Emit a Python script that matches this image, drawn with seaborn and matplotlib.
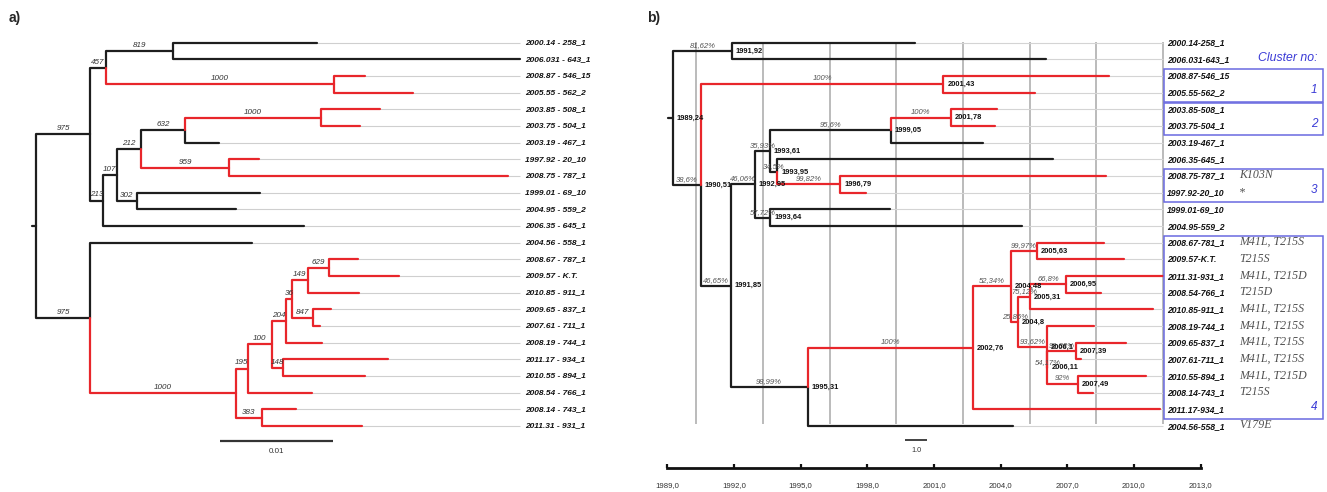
import matplotlib
matplotlib.use("Agg")
import matplotlib.pyplot as plt
import seaborn as sns
import pandas as pd
from matplotlib.patches import Rectangle

# ------------------------------------------------------------------ panel a data
a_tip_labels = ["2000.14 - 258_1", "2006.031 - 643_1", "2008.87 - 546_15", "2005.55 - 562_2",
                "2003.85 - 508_1", "2003.75 - 504_1", "2003.19 - 467_1", "1997.92 - 20_10",
                "2008.75 - 787_1", "1999.01 - 69_10", "2004.95 - 559_2", "2006.35 - 645_1",
                "2004.56 - 558_1", "2008.67 - 787_1", "2009.57 - K.T.", "2010.85 - 911_1",
                "2009.65 - 837_1", "2007.61 - 711_1", "2008.19 - 744_1", "2011.17 - 934_1",
                "2010.55 - 894_1", "2008.54 - 766_1", "2008.14 - 743_1", "2011.31 - 931_1"]
a_tip_parent = ["n819", "n819", "n1000a", "n1000a", "n1000b", "n1000b", "n632", "n959",
                "n959", "n302", "n302", "n213", "B", "nKT", "nKT", "n629",
                "n847", "n847", "n36", "n148", "n148", "n100", "n383", "n383"]
a_tip_depth = [0.02487, 0.04283, 0.02912, 0.03334, 0.03047, 0.02867, 0.01619, 0.01973,
               0.04177, 0.01982, 0.01770, 0.02372, 0.01912, 0.02850, 0.03212, 0.02858,
               0.02608, 0.02513, 0.02531, 0.03115, 0.02912, 0.02445, 0.02301, 0.02882]
a_node_names = ["root", "A", "n457", "n819", "n1000a", "n213", "n107", "n212", "n632", "n1000b",
                "n959", "n302", "B", "n195", "n100", "n204", "n36", "n149", "n629", "nKT",
                "n847", "n148", "n383"]
a_node_parent = [None, "root", "A", "n457", "n457", "A", "n213", "n107", "n212", "n632",
                 "n212", "n107", "root", "B", "n195", "n100", "n204", "n36", "n149", "n629",
                 "n149", "n204", "n195"]
a_node_depth = [0.0, 0.00478, 0.00619, 0.01212, 0.02633, 0.00593, 0.00717, 0.00929, 0.01319,
                0.02522, 0.01708, 0.00894, 0.00478, 0.01770, 0.01876, 0.02088, 0.02212,
                0.02265, 0.02404, 0.02597, 0.02448, 0.02186, 0.02000]
a_node_support = ["", "975", "457", "819", "1000", "213", "107", "212", "632", "1000",
                  "959", "302", "975", "1000", "195", "100", "204", "36", "149", "629",
                  "847", "148", "383"]
a_red_clades = ["n1000a", "n1000b", "n959", "n195"]
a_scale_value = 0.01
a_scale_label = "0.01"

# ------------------------------------------------------------------ panel b data
b_tip_labels = ["2000.14-258_1", "2006.031-643_1", "2008.87-546_15", "2005.55-562_2",
                "2003.85-508_1", "2003.75-504_1", "2003.19-467_1", "2006.35-645_1",
                "2008.75-787_1", "1997.92-20_10", "1999.01-69_10", "2004.95-559_2",
                "2008.67-781_1", "2009.57-K.T.", "2011.31-931_1", "2008.54-766_1",
                "2010.85-911_1", "2008.19-744_1", "2009.65-837_1", "2007.61-711_1",
                "2010.55-894_1", "2008.14-743_1", "2011.17-934_1", "2004.56-558_1"]
b_tip_parent = [1991.92, 1991.92, 2001.43, 2001.43, 2001.78, 2001.78, 1999.05, 1993.95,
                1996.79, 1996.79, 1993.64, 1993.64, 2005.63, 2005.63, 2006.95, 2006.95,
                2005.31, 2006.1, 2007.39, 2007.39, 2007.49, 2007.49, 2002.76, 1995.31]
b_node_date = [1989.24, 1991.92, 1990.51, 2001.43, 1991.85, 1992.95, 1993.61, 1999.05,
               2001.78, 1993.95, 1996.79, 1993.64, 1995.31, 2002.76, 2004.48, 2005.63,
               2004.8, 2005.31, 2006.95, 2006.1, 2006.11, 2007.39, 2007.49]
b_node_parent = [None, 1989.24, 1989.24, 1990.51, 1990.51, 1991.85, 1992.95, 1993.61,
                 1999.05, 1993.61, 1993.95, 1992.95, 1991.85, 1995.31, 2002.76, 2004.48,
                 2004.48, 2004.8, 2005.31, 2004.8, 2006.1, 2006.11, 2006.11]
b_node_support = ["", "81,62%", "38,6%", "100%", "46,65%", "46,06%", "35,93%", "95,6%",
                  "100%", "34,5%", "99,82%", "57,72%", "98,99%", "100%", "52,34%", "99,97%",
                  "25,86%", "75,12%", "66,8%", "93,62%", "54,17%", "99,82%", "92%"]
b_red_clades = [2001.43, 2001.78, 1996.79, 2002.76]
b_mutations = ["", "", "", "", "", "", "", "", "K103N", "*", "", "",
               "M41L, T215S", "T215S", "M41L, T215D", "T215D", "M41L, T215S", "M41L, T215S",
               "M41L, T215S", "M41L, T215S", "M41L, T215D", "T215S", "", "V179E"]
cluster_names = ["1", "2", "3", "4"]
cluster_first = [2, 4, 8, 12]
cluster_last = [3, 5, 9, 22]
b_ticks = [1989, 1992, 1995, 1998, 2001, 2004, 2007, 2010, 2013]
b_grid = [1990.31, 1993.31, 1996.31, 1999.31, 2002.31, 2005.31, 2008.31, 2011.31]
b_scale_value = 1.0
b_scale_label = "1.0"

# ------------------------------------------------------------------ style
RED = "#e8262b"
BLACK = "#1e1e1e"
BLUE = "#3a3ad6"
BOXC = "#6a6ae0"
sns.set_theme(style="white")
plt.rcParams["font.family"] = ["Liberation Sans", "DejaVu Sans"]

W, H = 1327, 492
fig = plt.figure(figsize=(W / 100, H / 100), dpi=100)

ROW0, ROWH = 42.7, 16.67  # pixel position of first tip row and row spacing


def layout(tip_ids, tip_parent, tip_x, node_ids, node_parent, node_x):
    parent, x, y = {}, {}, {}
    for i, (t, p, xx) in enumerate(zip(tip_ids, tip_parent, tip_x)):
        parent[t], x[t], y[t] = p, xx, float(i)
    for n, p, xx in zip(node_ids, node_parent, node_x):
        parent[n], x[n] = p, xx
    children = {}
    for k, p in parent.items():
        if p is not None:
            children.setdefault(p, []).append(k)

    def gety(n):
        if n not in y:
            ys = [gety(c) for c in children[n]]
            y[n] = (min(ys) + max(ys)) / 2
        return y[n]

    for n in node_ids:
        gety(n)
    return parent, children, x, y


def clade(n, children):
    out = {n}
    for c in children.get(n, []):
        out |= clade(c, children)
    return out


def segments(parent, x, y, red, stub):
    rows = []
    sid = 0
    for k, p in parent.items():
        col = "red" if k in red else "black"
        if p is None:
            pts = [(x[k] - stub, y[k]), (x[k], y[k])]
        else:
            pts = [(x[p], y[p]), (x[p], y[k]), (x[k], y[k])]
        for px, py in pts:
            rows.append({"x": px, "y": py, "seg": sid, "col": col})
        sid += 1
    return pd.DataFrame(rows)


# ================================================================== panel a
axA = fig.add_axes([0, 0, 640 / W, 1])
A_X0, A_PPU = 36.0, 11300.0  # px of root, px per substitution unit
pa, ca, xa, ya = layout(a_tip_labels, a_tip_parent, a_tip_depth,
                        a_node_names, a_node_parent, a_node_depth)
reda = set()
for r in a_red_clades:
    reda |= clade(r, ca)
dfa = segments(pa, xa, ya, reda, 0.00035)
a_max = max(a_tip_depth)
axA.hlines(range(len(a_tip_labels)), a_tip_depth, a_max, color="#cfcfcf", lw=0.8, zorder=1)
sns.lineplot(data=dfa, x="x", y="y", units="seg", estimator=None, hue="col",
             palette={"red": RED, "black": BLACK}, sort=False, legend=False,
             linewidth=1.6, ax=axA, zorder=2)
for n, s in zip(a_node_names, a_node_support):
    if s and pa[n] is not None:
        axA.text((xa[pa[n]] + xa[n]) / 2, ya[n] - 0.13, s, ha="center", va="bottom",
                 fontsize=5.8, style="italic", color="#333333", zorder=3)
for i, lab in enumerate(a_tip_labels):
    axA.text(a_max + 5 / A_PPU, i, lab, ha="left", va="center", fontsize=6.0,
             fontweight="bold", style="italic", color="#111111")
sb_x0 = 0.01628
sb_y = (440.7 - ROW0) / ROWH
axA.plot([sb_x0, sb_x0 + a_scale_value], [sb_y, sb_y], color="#333333", lw=1.6,
         solid_capstyle="butt")
axA.text(sb_x0 + a_scale_value / 2, sb_y + 0.62, a_scale_label, ha="center", va="center",
         fontsize=5.8, color="#333333")
axA.set_xlim((0 - A_X0) / A_PPU, (640 - A_X0) / A_PPU)
axA.set_ylim((H - ROW0) / ROWH, -ROW0 / ROWH)
axA.axis("off")

# ================================================================== panel b
AX_BOTTOM_PX = 468.3
axB = fig.add_axes([640 / W, (H - AX_BOTTOM_PX) / H, (W - 640) / W, AX_BOTTOM_PX / H])
B_X0, B_PPY = 667.3, 22.22  # px of year 1989, px per year
b_tip_dates = [float(l.split("-")[0]) for l in b_tip_labels]
pb, cb, xb, yb = layout(b_tip_labels, b_tip_parent, b_tip_dates,
                        b_node_date, b_node_parent, b_node_date)
redb = set()
for r in b_red_clades:
    redb |= clade(r, cb)
dfb = segments(pb, xb, yb, redb, 0.2)
b_max = max(b_tip_dates)
n_tips = len(b_tip_labels)
axB.vlines(b_grid, -0.06, n_tips - 1.1, color="#a8a8a8", lw=1.1, zorder=1)
axB.hlines(range(n_tips), b_tip_dates, b_max, color="#d4d4d4", lw=0.8, zorder=1)
sns.lineplot(data=dfb, x="x", y="y", units="seg", estimator=None, hue="col",
             palette={"red": RED, "black": BLACK}, sort=False, legend=False,
             linewidth=1.6, ax=axB, zorder=2)
for n, s in zip(b_node_date, b_node_support):
    if s and pb[n] is not None:
        axB.text((xb[pb[n]] + xb[n]) / 2, yb[n] - 0.13, s, ha="center", va="bottom",
                 fontsize=5.5, style="italic", color="#555555", zorder=3)
for n in b_node_date:
    axB.text(xb[n] + 0.17, yb[n], str(n).replace(".", ","), ha="left", va="center",
             fontsize=5.4, fontweight="bold", color="#111111", zorder=4)
for i, lab in enumerate(b_tip_labels):
    axB.text(b_max + 0.18, i, lab, ha="left", va="center", fontsize=6.2,
             fontweight="bold", style="italic", color="#111111")
for i, m in enumerate(b_mutations):
    if m:
        axB.text(b_max + 3.42, i - 0.05, m, ha="left", va="center", fontsize=8.6,
                 style="italic", family=["Liberation Serif", "DejaVu Serif"],
                 color="#505050")
box_x0, box_x1 = b_max + 0.05, b_max + 7.2
for name, f, l in zip(cluster_names, cluster_first, cluster_last):
    axB.add_patch(Rectangle((box_x0, f - 0.4), box_x1 - box_x0, (l - f) + 0.95,
                            fill=False, edgecolor=BOXC, lw=1.1, zorder=3))
    axB.text(box_x1 - 0.25, l - 0.15, name, ha="right", va="center", fontsize=8.5,
             style="italic", color=BLUE)
axB.text(box_x1 - 0.25, 0.9, "Cluster no:", ha="right", va="center", fontsize=8.8,
         style="italic", color=BLUE)
sbb_x0 = 1999.70
sbb_y = (440.0 - ROW0) / ROWH
axB.plot([sbb_x0, sbb_x0 + b_scale_value], [sbb_y, sbb_y], color="#222222", lw=1.2,
         solid_capstyle="butt")
axB.text(sbb_x0 + b_scale_value / 2, sbb_y + 0.62, b_scale_label, ha="center",
         va="center", fontsize=5.2, color="#333333")

axB.set_xlim(1989 - (B_X0 - 640) / B_PPY, 1989 + (W - B_X0) / B_PPY)
axB.set_ylim(AX_BOTTOM_PX / ROWH - ROW0 / ROWH, -ROW0 / ROWH)
for side in ["top", "right", "left"]:
    axB.spines[side].set_visible(False)
axB.spines["bottom"].set_bounds(b_ticks[0], b_ticks[-1])
axB.spines["bottom"].set_linewidth(2.0)
axB.spines["bottom"].set_color("#111111")
axB.set_xticks(b_ticks)
axB.set_xticklabels([f"{t:.1f}".replace(".", ",") for t in b_ticks])
axB.set_yticks([])
axB.tick_params(axis="x", direction="in", length=3, width=1.6, pad=10,
                labelsize=5.6, labelcolor="#333333", color="#111111", bottom=True)
axB.set_xlabel("")
axB.set_ylabel("")
axB.set_facecolor("none")

fig.text(15 / W, 1 - 18 / H, "a)", fontsize=10, fontweight="bold", ha="center", va="center")
fig.text(654 / W, 1 - 18 / H, "b)", fontsize=10, fontweight="bold", ha="center", va="center")

fig.savefig("out.png", dpi=100)
